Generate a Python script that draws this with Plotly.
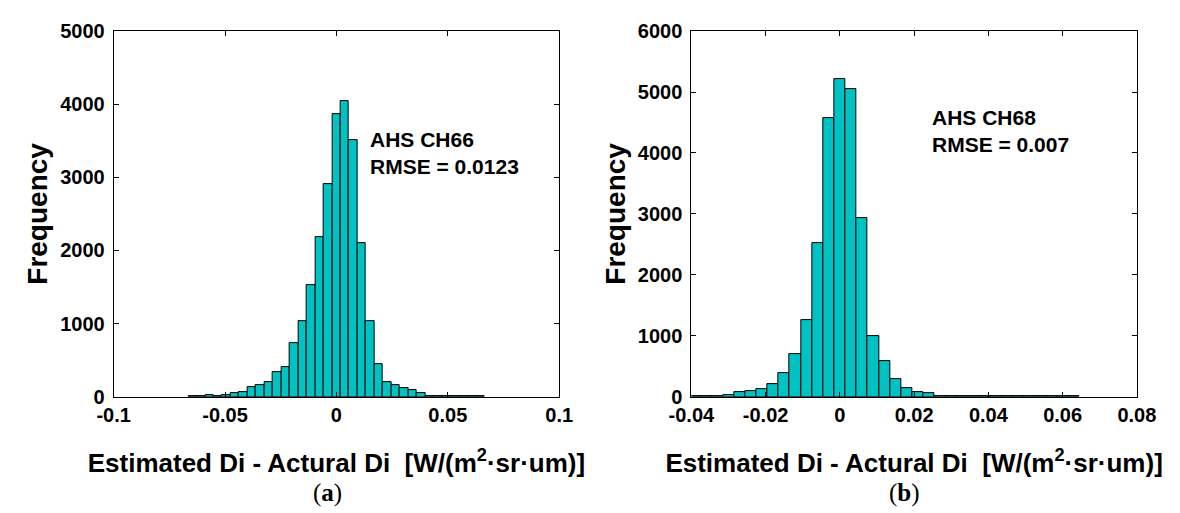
import plotly.graph_objects as go

# ---------------- data ----------------
# (a) AHS CH66 : bin centres (index * width) and counts
a_bin_width = 0.0038
a_bin_index = list(range(-17, 18))
a_counts = [3, 3, 20, 10, 20, 50, 70, 130, 157, 205, 330, 410, 735, 1030, 1525, 2180,
            2910, 3860, 4040, 3505, 2105, 1035, 445, 197, 157, 122, 87, 52, 13,
            4, 4, 10, 4, 3, 3]
a_centers = [i * a_bin_width for i in a_bin_index]

# (b) AHS CH68
b_bin_width = 0.003
b_bin_index = list(range(-13, 22))
b_counts = [3, 3, 10, 26, 68, 89, 131, 204, 382, 707, 1251, 2529, 4576, 5215, 5055,
            2932, 990, 592, 283, 147, 84, 63, 16, 5, 16, 5, 3, 3, 3, 3, 3, 3, 3, 3, 3]
b_centers = [i * b_bin_width for i in b_bin_index]

a_xticks = [-0.1, -0.05, 0, 0.05, 0.1]
a_xticklabels = ["-0.1", "-0.05", "0", "0.05", "0.1"]
b_xticks = [-0.04, -0.02, 0, 0.02, 0.04, 0.06, 0.08]
b_xticklabels = ["-0.04", "-0.02", "0", "0.02", "0.04", "0.06", "0.08"]
a_yticks = [0, 1000, 2000, 3000, 4000, 5000]
b_yticks = [0, 1000, 2000, 3000, 4000, 5000, 6000]

a_label = "AHS CH66<br>RMSE = 0.0123"
b_label = "AHS CH68<br>RMSE = 0.007"
x_title = "Estimated Di - Actural Di \u00a0[W/(m<sup>2</sup>·sr·um)]"
y_title = "Frequency"

# ---------------- figure ----------------
FILL = "#00C2C2"
FONT = "Liberation Sans, Arial, sans-serif"

fig = go.Figure()
fig.add_trace(go.Bar(x=a_centers, y=a_counts, width=a_bin_width,
                     marker=dict(color=FILL, line=dict(color="black", width=1)),
                     xaxis="x", yaxis="y", showlegend=False))
fig.add_trace(go.Bar(x=b_centers, y=b_counts, width=b_bin_width,
                     marker=dict(color=FILL, line=dict(color="black", width=1)),
                     xaxis="x2", yaxis="y2", showlegend=False))

tickfont = dict(family=FONT, size=20, color="black", weight="bold")
xtitlefont = dict(family=FONT, size=26, color="black", weight="bold")
ytitlefont = dict(family=FONT, size=28, color="black", weight="bold")

common_x = dict(showline=True, linecolor="black", linewidth=1, mirror="ticks",
                ticks="inside", ticklen=5, tickcolor="black", showgrid=False,
                zeroline=False, tickfont=tickfont, ticklabelstandoff=0,
                title=dict(text=x_title, font=xtitlefont, standoff=29))
common_y = dict(showline=True, linecolor="black", linewidth=1, mirror="ticks",
                ticks="inside", ticklen=5, tickcolor="black", showgrid=False,
                zeroline=False, tickfont=tickfont, ticklabelstandoff=4,
                title=dict(text=y_title, font=ytitlefont, standoff=4))

ydom = [110 / 513, 492 / 513]
fig.update_layout(
    width=1180, height=513,
    margin=dict(l=0, r=0, t=0, b=0),
    paper_bgcolor="white", plot_bgcolor="white",
    bargap=0,
    xaxis=dict(domain=[94 / 1180, 556 / 1180], range=[-0.1, 0.1], anchor="y",
               tickvals=a_xticks, ticktext=a_xticklabels, **common_x),
    yaxis=dict(domain=ydom, range=[0, 5000], anchor="x", tickvals=a_yticks, **common_y),
    xaxis2=dict(domain=[693 / 1180, 1155 / 1180], range=[-0.04, 0.08], anchor="y2",
                tickvals=b_xticks, ticktext=b_xticklabels, **common_x),
    yaxis2=dict(domain=ydom, range=[0, 6000], anchor="x2", tickvals=b_yticks, **common_y),
    annotations=[
        dict(text=a_label, xref="paper", yref="paper", x=358 / 1180, y=(513 - 120) / 513,
             xanchor="left", yanchor="top", align="left", showarrow=False,
             font=dict(family=FONT, size=21, color="black", weight="bold")),
        dict(text=b_label, xref="paper", yref="paper", x=940 / 1180, y=(513 - 97) / 513,
             xanchor="left", yanchor="top", align="left", showarrow=False,
             font=dict(family=FONT, size=21, color="black", weight="bold")),
        dict(text="(<b>a</b>)", xref="paper", yref="paper", x=316 / 1180, y=(513 - 504) / 513,
             xanchor="center", yanchor="middle", showarrow=False,
             font=dict(family="Liberation Serif, Times New Roman, serif", size=25, color="black")),
        dict(text="(<b>b</b>)", xref="paper", yref="paper", x=914 / 1180, y=(513 - 504) / 513,
             xanchor="center", yanchor="middle", showarrow=False,
             font=dict(family="Liberation Serif, Times New Roman, serif", size=25, color="black")),
    ],
)

fig.write_html("out.html")
